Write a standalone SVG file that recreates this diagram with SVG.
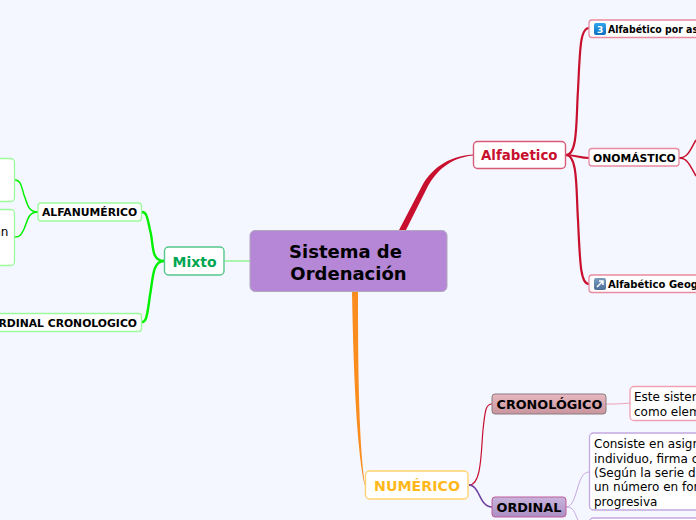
<svg xmlns="http://www.w3.org/2000/svg" width="696" height="520" viewBox="0 0 696 520">
<style>
text{font-family:"DejaVu Sans",Verdana,sans-serif;fill:#000}
.b{font-weight:bold}
.sub{font-size:10.800px;font-weight:bold}
.main{font-size:14px;font-weight:bold}
.body{font-size:12px}
.w{fill:#fff}
.rd{stroke:#e88aa0;stroke-width:1.300}
.gr{stroke:#9cfb9c;stroke-width:1.300}
.pu{stroke:#c5a8e0;stroke-width:1.300}
</style>
<defs>
<linearGradient id="gc" x1="0" y1="0" x2="0" y2="1"><stop offset="0" stop-color="#e8b8c0"/><stop offset="1" stop-color="#c8959f"/></linearGradient>
<linearGradient id="go" x1="0" y1="0" x2="0" y2="1"><stop offset="0" stop-color="#c9b3dc"/><stop offset="1" stop-color="#ab8fc4"/></linearGradient>
<linearGradient id="gi" x1="0" y1="0" x2="0" y2="1"><stop offset="0" stop-color="#2ea6ee"/><stop offset="1" stop-color="#0a6fc0"/></linearGradient>
<linearGradient id="gj" x1="0" y1="0" x2="0" y2="1"><stop offset="0" stop-color="#7a9cc0"/><stop offset="1" stop-color="#4a6f98"/></linearGradient>
</defs>
<rect width="696" height="520" fill="#f4f7ff"/>
<g id="connectors">
<path d="M398.500 231L423 184C431 171 446 156 473 154.500L473 155.500C449 158 436 172 428 186L405.500 231Z" fill="#c8102e"/>
<path d="M225 261H250" stroke="#5cf55c" stroke-width="1" fill="none"/>
<path d="M352 292L358 292C358 340 358 440 365 485L364.500 485C355 440 353 340 352 292Z" fill="#fb8c1e"/>
<path d="M566 155C578 155 576 120 578 90C580 50 580 28 589 28" fill="none" stroke="#c8102e" stroke-width="2.200"/>
<path d="M566 155C575 155 580 158 589 158" fill="none" stroke="#c8102e" stroke-width="2.200"/>
<path d="M566 155C578 155 576 190 578 220C580 260 580 284 589 284" fill="none" stroke="#c8102e" stroke-width="2.200"/>
<path d="M679 158C688 158 690 150 696 140" fill="none" stroke="#c8102e" stroke-width="1.500"/>
<path d="M679 158C688 158 690 166 696 176" fill="none" stroke="#c8102e" stroke-width="1.500"/>
<path d="M164 261C150 261 154 243 150 230C147 215 146 212 142 212" fill="none" stroke="#00f000" stroke-width="2.400"/>
<path d="M164 261C152 261 153 280 150 295C147 318 146 322 142 322" fill="none" stroke="#00f000" stroke-width="2.400"/>
<path d="M38 212C28 212 28 205 24 195C21 184 20 180 15 180" fill="none" stroke="#00f000" stroke-width="1.500"/>
<path d="M38 212C28 212 28 220 24 229C21 235 20 237 15 237" fill="none" stroke="#00f000" stroke-width="1.500"/>
<path d="M469 485C482 485 481 450 483 430C485 410 486 404 492 404" fill="none" stroke="#c8102e" stroke-width="1.200"/>
<path d="M469 485C480 485 479 507 492 507" fill="none" stroke="#6b3fa0" stroke-width="1.500"/>
<path d="M606 404C615 404 620 404 630 403" fill="none" stroke="#f0a0b4" stroke-width="1"/>
<path d="M566 507C578 507 576 472 589 472" fill="none" stroke="#c5a8e0" stroke-width="1"/>
<path d="M566 507C574 507 574 512 578 520" fill="none" stroke="#c5a8e0" stroke-width="1"/>
</g>
<g id="central"><rect x="250" y="230.500" width="197" height="61" rx="5" fill="#b687d6" stroke="#b0a8bc"/><text class="b" font-size="18" text-anchor="middle" x="345.500" y="257.500">Sistema de</text><text class="b" font-size="18" text-anchor="middle" x="348.500" y="279.500">Ordenación</text></g>
<g id="alfabetico"><rect x="473.500" y="141.500" width="92" height="27" rx="4" class="w" stroke="#d85a76" stroke-width="1.400"/><text class="main" x="481" y="160" textLength="76.500" lengthAdjust="spacingAndGlyphs" style="fill:#c8102e">Alfabetico</text></g>
<g id="mixto"><rect x="164.500" y="247" width="59.500" height="28" rx="4" class="w" stroke="#55c78c" stroke-width="1.400"/><text class="main" x="172.500" y="267" style="fill:#00a651">Mixto</text></g>
<g id="numerico"><rect x="365.500" y="471" width="102.500" height="28" rx="4" class="w" stroke="#ffd36e" stroke-width="1.400"/><text class="main" x="374" y="491" textLength="86" lengthAdjust="spacingAndGlyphs" style="fill:#ffb81c">NUMÉRICO</text></g>
<g id="alfanumerico"><rect x="38" y="203" width="103.500" height="18" rx="3" class="w gr"/><text class="sub" x="42" y="216">ALFANUMÉRICO</text></g>
<g id="ordinal-cronologico"><rect x="-20" y="313.500" width="161.500" height="18" rx="3" class="w gr"/><text class="sub" x="137" y="327" text-anchor="end">ORDINAL CRONOLOGICO</text></g>
<g id="alfa-box-1"><rect x="-20" y="158.500" width="34.500" height="43" rx="4" class="w gr"/></g>
<g id="alfa-box-2"><rect x="-20" y="209.500" width="34.500" height="56" rx="4" class="w gr"/><text class="body" font-size="11" x="-6.500" y="236">an</text></g>
<g id="por-asunto"><rect x="589" y="20" width="130" height="17.500" rx="3" class="w rd"/><rect x="594" y="23" width="12" height="12" rx="2" fill="url(#gi)"/><text x="597" y="33" font-size="9" font-weight="bold" style="fill:#fff">3</text><text class="sub" x="608" y="33" textLength="90" lengthAdjust="spacingAndGlyphs">Alfabético por as</text></g>
<g id="onomastico"><rect x="589" y="148.500" width="90" height="17.500" rx="3" class="w rd"/><text class="sub" x="593" y="162">ONOMÁSTICO</text></g>
<g id="geografico"><rect x="589" y="275" width="130" height="17.500" rx="3" class="w rd"/><rect x="594" y="278" width="12" height="12" rx="2" fill="url(#gj)"/><path d="M597 287L603 281M599 281H603V285" stroke="#fff" stroke-width="1.500" fill="none"/><text class="sub" x="608" y="288" textLength="90" lengthAdjust="spacingAndGlyphs">Alfabético Geog</text></g>
<g id="cronologico"><rect x="492" y="394" width="114" height="20" rx="3" fill="url(#gc)" stroke="#8a7c80"/><text class="b" font-size="12.800" x="496.500" y="409">CRONOLÓGICO</text></g>
<g id="cronologico-texto"><rect x="630" y="386.500" width="90" height="34" rx="4" class="w" stroke="#f0a0b4" stroke-width="1.300"/><text class="body" x="634" y="401">Este sister</text><text class="body" x="634" y="416">como elem</text></g>
<g id="ordinal"><rect x="492" y="497" width="74" height="20" rx="3" fill="url(#go)" stroke="#c05c9c"/><text class="b" font-size="12.800" x="496.500" y="512">ORDINAL</text></g>
<g id="ordinal-texto"><rect x="589.500" y="433" width="130" height="77" rx="4" class="w pu"/><text class="body" x="594" y="448">Consiste en asigr</text><text class="body" x="594" y="462.500">individuo, firma c</text><text class="body" x="594" y="477">(Según la serie d</text><text class="body" x="594" y="491">un número en for</text><text class="body" x="594" y="506">progresiva</text></g>
<g id="ordinal-texto-2"><rect x="589.500" y="518" width="130" height="20" rx="4" class="w pu"/></g>
</svg>
